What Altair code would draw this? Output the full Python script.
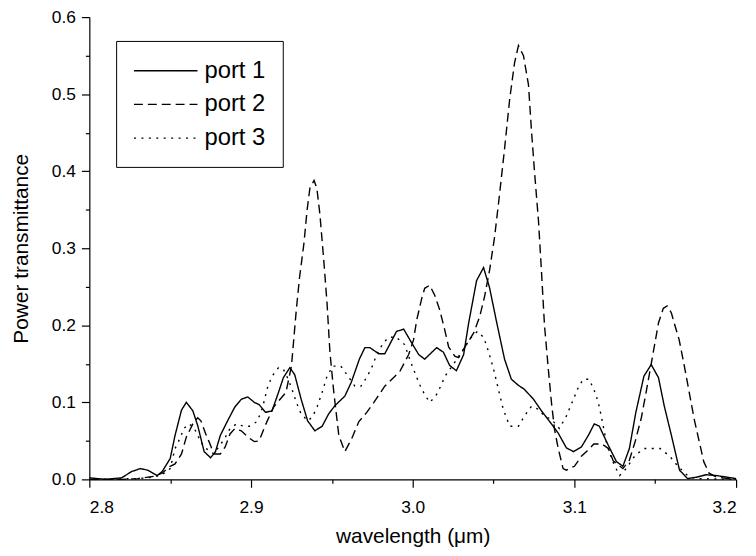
import altair as alt
import pandas as pd

series_names = ["port 1", "port 2", "port 3"]

p1_x = [2.800, 2.810, 2.820, 2.826, 2.8315, 2.836, 2.842, 2.845, 2.850, 2.853, 2.857, 2.860, 2.864,
        2.867, 2.871, 2.875, 2.878, 2.881, 2.886, 2.890, 2.894, 2.898, 2.902, 2.905, 2.909, 2.913,
        2.917, 2.920, 2.924, 2.927, 2.931, 2.935, 2.9395, 2.944, 2.948, 2.952, 2.958, 2.962, 2.967,
        2.9704, 2.9735, 2.979, 2.9827, 2.990, 2.9944, 2.9994, 3.0037, 3.0074, 3.0148, 3.019, 3.0228,
        3.027, 3.0315, 3.0346, 3.0395, 3.0438, 3.0475, 3.052, 3.0568, 3.061, 3.0654, 3.069, 3.0747,
        3.0796, 3.0858, 3.0900, 3.095, 3.0994, 3.1043, 3.1086, 3.1123, 3.1154, 3.121, 3.126, 3.130,
        3.134, 3.138, 3.143, 3.1475, 3.152, 3.1556, 3.160, 3.165, 3.170, 3.176, 3.1815, 3.1877,
        3.194, 3.200]
p1_y = [0.002, 0.000, 0.002, 0.010, 0.014, 0.012, 0.005, 0.010, 0.027, 0.057, 0.090, 0.100, 0.089,
        0.070, 0.036, 0.028, 0.036, 0.057, 0.078, 0.094, 0.104, 0.107, 0.100, 0.097, 0.087, 0.089,
        0.113, 0.132, 0.145, 0.136, 0.104, 0.076, 0.063, 0.069, 0.085, 0.096, 0.108, 0.126, 0.156,
        0.171, 0.171, 0.163, 0.163, 0.192, 0.195, 0.177, 0.162, 0.156, 0.171, 0.165, 0.148,
        0.141, 0.162, 0.203, 0.258, 0.275, 0.249, 0.203, 0.156, 0.130, 0.122, 0.117, 0.104,
        0.089, 0.072, 0.060, 0.041, 0.036, 0.042, 0.057, 0.072, 0.069, 0.044, 0.023, 0.017,
        0.040, 0.087, 0.134, 0.149, 0.132, 0.095, 0.057, 0.012, 0.001, 0.003, 0.006, 0.005,
        0.003, 0.001]

p2_x = [2.800, 2.820, 2.830, 2.840, 2.845, 2.850, 2.853, 2.857, 2.860, 2.864, 2.867, 2.869, 2.872,
        2.874, 2.877, 2.881, 2.884, 2.887, 2.890, 2.894, 2.898, 2.902, 2.905, 2.909, 2.914, 2.9216,
        2.925, 2.928, 2.930, 2.9327, 2.9346, 2.9364, 2.939, 2.9407, 2.9426, 2.945, 2.947, 2.9488,
        2.9512, 2.9543, 2.958, 2.9623, 2.9667, 2.9716, 2.976, 2.9827, 2.992, 2.9975, 3.0005, 3.0025,
        3.0056, 3.0074, 3.0105, 3.0136, 3.0167, 3.0198, 3.0222, 3.026, 3.0284, 3.032, 3.0377,
        3.0414, 3.0444, 3.0475, 3.0506, 3.0537, 3.0568, 3.060, 3.063, 3.0654, 3.0685, 3.0716,
        3.0735, 3.0753, 3.0778, 3.0796, 3.0815, 3.084, 3.0858, 3.0877, 3.090, 3.093, 3.095, 3.100,
        3.1043, 3.108, 3.112, 3.117, 3.121, 3.124, 3.130, 3.134, 3.1377, 3.1414, 3.1445, 3.1475,
        3.152, 3.155, 3.1574, 3.160, 3.1617, 3.1648, 3.168, 3.171, 3.1741, 3.1772, 3.180, 3.1833,
        3.1877, 3.195, 3.200]
p2_y = [0.000, 0.000, 0.001, 0.004, 0.008, 0.017, 0.020, 0.033, 0.055, 0.072, 0.080, 0.076, 0.059,
        0.049, 0.033, 0.033, 0.042, 0.059, 0.066, 0.063, 0.055, 0.049, 0.050, 0.071, 0.094, 0.113,
        0.147, 0.220, 0.262, 0.306, 0.348, 0.378, 0.388, 0.378, 0.344, 0.284, 0.229, 0.165,
        0.113, 0.057, 0.036, 0.053, 0.075, 0.087, 0.100, 0.121, 0.140, 0.162, 0.181, 0.207,
        0.235, 0.248, 0.252, 0.239, 0.220, 0.194, 0.172, 0.160, 0.158, 0.171, 0.190,
        0.211, 0.237, 0.271, 0.314, 0.370, 0.429, 0.494, 0.541, 0.563, 0.550, 0.512,
        0.451, 0.400, 0.335, 0.271, 0.200, 0.140, 0.100, 0.065, 0.040, 0.014, 0.012, 0.017,
        0.030, 0.037, 0.046, 0.046, 0.040, 0.024, 0.014, 0.025, 0.050, 0.080, 0.115, 0.150,
        0.203, 0.222, 0.225, 0.216, 0.203, 0.181, 0.147, 0.113, 0.078, 0.049, 0.023, 0.008,
        0.003, 0.001, 0.000]

p3_x = [2.800, 2.830, 2.840, 2.845, 2.850, 2.853, 2.856, 2.8585, 2.8615, 2.8645, 2.8675, 2.8707,
        2.8744, 2.877, 2.880, 2.8837, 2.887, 2.891, 2.8954, 2.899, 2.9037, 2.907, 2.910, 2.913,
        2.917, 2.920, 2.923, 2.926, 2.928, 2.931, 2.935, 2.938, 2.941, 2.944, 2.947, 2.9506,
        2.9555, 2.960, 2.9642, 2.968, 2.972, 2.975, 2.977, 2.980, 2.9846, 2.9895, 2.995, 2.9988,
        3.0018, 3.0043, 3.0074, 3.0105, 3.0142, 3.0173, 3.020, 3.027, 3.032, 3.036, 3.040, 3.044,
        3.047, 3.050, 3.053, 3.056, 3.060, 3.0654, 3.069, 3.0735, 3.0778, 3.0815, 3.0858, 3.0907,
        3.095, 3.0994, 3.1025, 3.1055, 3.109, 3.112, 3.1148, 3.1167, 3.120, 3.123, 3.125, 3.128,
        3.132, 3.1375, 3.143, 3.148, 3.153, 3.159, 3.164, 3.170, 3.175, 3.200]
p3_y = [0.000, 0.001, 0.003, 0.006, 0.014, 0.040, 0.053, 0.066, 0.072, 0.068, 0.055, 0.042,
        0.037, 0.033, 0.042, 0.053, 0.066, 0.072, 0.069, 0.069, 0.075, 0.092, 0.118, 0.134,
        0.145, 0.143, 0.130, 0.113, 0.100, 0.085, 0.076, 0.081, 0.095, 0.113, 0.134, 0.147,
        0.147, 0.134, 0.121, 0.121, 0.134, 0.147, 0.158, 0.171, 0.184, 0.185, 0.175, 0.152,
        0.136, 0.123, 0.110, 0.100, 0.108, 0.121, 0.134, 0.155, 0.171, 0.184, 0.192, 0.184,
        0.165, 0.143, 0.117, 0.091, 0.069, 0.069, 0.082, 0.095, 0.091, 0.082, 0.078, 0.066,
        0.082, 0.104, 0.120, 0.130, 0.130, 0.117, 0.100, 0.081, 0.046, 0.027, 0.017, 0.005,
        0.014, 0.031, 0.040, 0.040, 0.040, 0.030, 0.017, 0.005, 0.001, 0.000]

x_major = [2.8, 2.9, 3.0, 3.1, 3.2]
x_minor = [2.85, 2.95, 3.05, 3.15]
y_major = [0.0, 0.1, 0.2, 0.3, 0.4, 0.5, 0.6]
y_minor = [0.05, 0.15, 0.25, 0.35, 0.45, 0.55]
dash_patterns = [[1, 0], [9, 5], [2, 5.5]]

frames = []
for name, xs, ys in zip(series_names, [p1_x, p2_x, p3_x], [p1_y, p2_y, p3_y]):
    frames.append(pd.DataFrame({"wavelength": xs, "power": ys, "series": name}))
df = pd.concat(frames, ignore_index=True)

FONT = "Liberation Sans"
common = dict(grid=False, domainColor="black", tickColor="black", domainWidth=1.2, tickWidth=1.2)

x_scale = alt.Scale(domain=[2.8, 3.2], nice=False, zero=False)
y_scale = alt.Scale(domain=[0, 0.6], nice=False)

x_axis = alt.Axis(
    orient="bottom", values=x_major, format=".1f", tickSize=8, **common,
    labelFont=FONT, labelFontSize=17.5, labelColor="black", labelPadding=11,
    title="wavelength (\u03bcm)", titleFont=FONT, titleFontSize=21, titleFontWeight="normal",
    titleColor="black", titleY=64, titleBaseline="alphabetic",
)
y_axis = alt.Axis(
    orient="left", values=y_major, format=".1f", tickSize=8, **common,
    labelFont=FONT, labelFontSize=17.5, labelColor="black", labelPadding=6,
    title="Power transmittance", titleFont=FONT, titleFontSize=21, titleFontWeight="normal",
    titleColor="black", titleX=-68, titleY=233, titleAngle=270, titleAlign="center",
    titleBaseline="middle",
)
x_axis_minor = alt.Axis(orient="bottom", values=x_minor, tickSize=4, labels=False, domain=False,
                        title=None, grid=False, tickColor="black", tickWidth=1.2)
y_axis_minor = alt.Axis(orient="left", values=y_minor, tickSize=4, labels=False, domain=False,
                        title=None, grid=False, tickColor="black", tickWidth=1.2)

legend = alt.Legend(
    title=None, orient="none", legendX=27, legendY=24, padding=17,
    strokeColor="black", fillColor="white",
    symbolType="M-2.667,0H2.667", symbolSize=576, symbolOffset=20,
    symbolStrokeWidth=1.4, symbolStrokeColor="black",
    labelFont=FONT, labelFontSize=24, labelColor="black", labelOffset=26, rowPadding=9,
)

lines = alt.Chart(df).mark_line(color="black", strokeWidth=1.4).encode(
    x=alt.X("wavelength:Q", scale=x_scale, axis=x_axis),
    y=alt.Y("power:Q", scale=y_scale, axis=y_axis),
    strokeDash=alt.StrokeDash("series:N", scale=alt.Scale(domain=series_names, range=dash_patterns),
                              legend=legend),
    detail="series:N",
)
minor = alt.Chart(df).mark_line(opacity=0).encode(
    x=alt.X("wavelength:Q", scale=x_scale, axis=x_axis_minor),
    y=alt.Y("power:Q", scale=y_scale, axis=y_axis_minor),
    detail="series:N",
)

chart = alt.layer(lines, minor).resolve_axis(x="independent", y="independent").properties(
    width=652, height=466,
    autosize=alt.AutoSizeParams(type="none"),
    padding={"left": 82, "top": 7, "right": 12, "bottom": 68},
).configure_view(stroke=None)

chart.save("out.html", embed_options={"renderer": "svg", "actions": False})
